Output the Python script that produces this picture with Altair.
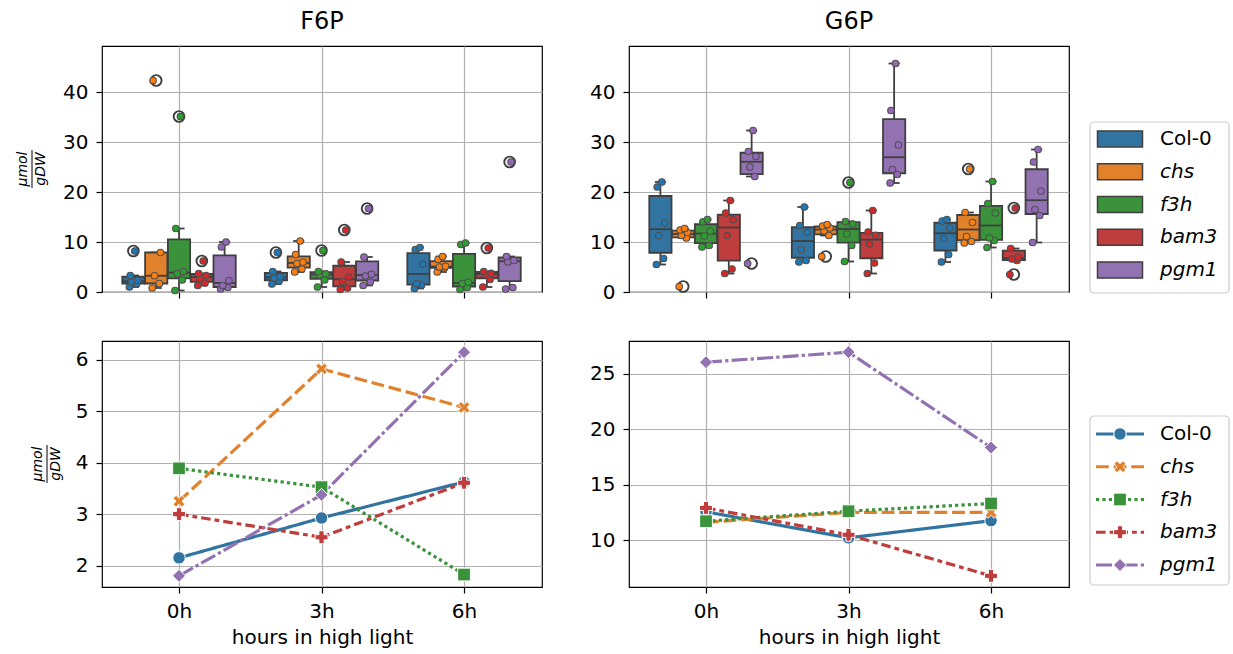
import altair as alt
import numpy as np
import pandas as pd

FONT = "DejaVu Sans"
GENOTYPES = ["Col-0", "chs", "f3h", "bam3", "pgm1"]
TIME_LABELS = ["0h", "3h", "6h"]
BOX_COLORS = ["#3274a1", "#e1812c", "#3a923a", "#c03d3e", "#9372b2"]
POINT_COLORS = ["#1f77b4", "#ff7f0e", "#2ca02c", "#d62728", "#9467bd"]
EDGE = "#3f3f3f"

# replicate values (umol/gDW) per genotype, lists for 0h, 3h, 6h
F6P_COL0 = [[1.0, 1.6, 2.0, 2.3, 3.3, 8.2], [1.6, 2.2, 2.8, 3.05, 4.1, 7.9], [0.7, 1.4, 1.7, 5.55, 8.5, 8.9]]
F6P_CHS = [[0.8, 1.7, 3.25, 7.9, 42.3], [4.0, 4.6, 5.7, 5.95, 7.5, 10.2], [4.0, 4.8, 5.0, 5.15, 6.5, 7.1]]
F6P_F3H = [[0.3, 2.4, 3.7, 4.08, 12.7, 35.1], [1.0, 2.4, 3.4, 3.65, 4.1, 8.3], [0.5, 0.9, 1.7, 1.95, 9.5, 9.8]]
F6P_BAM3 = [[1.3, 1.8, 2.7, 3.3, 3.7, 6.2], [0.5, 0.8, 2.1, 3.0, 6.0, 12.4], [1.0, 2.5, 3.5, 3.72, 4.1, 8.8]]
F6P_PGM1 = [[0.6, 0.9, 1.3, 2.3, 9.0, 10.0], [1.3, 2.0, 3.2, 3.55, 7.0, 16.7], [0.6, 0.9, 6.0, 6.3, 7.1, 26.0]]

G6P_COL0 = [[5.5, 6.7, 11.3, 13.8, 21.0, 22.0], [6.0, 6.3, 8.5, 11.9, 13.3, 17.0], [6.0, 7.5, 10.7, 12.8, 14.2, 14.5]]
G6P_CHS = [[1.1, 10.8, 11.3, 11.9, 12.4, 12.7], [7.1, 11.3, 12.2, 12.8, 13.2, 13.5], [9.8, 10.1, 11.1, 13.9, 15.9, 24.6]]
G6P_F3H = [[9.0, 9.3, 11.2, 12.2, 14.0, 14.5], [6.1, 9.3, 11.6, 13.6, 14.1, 21.9], [8.9, 10.3, 10.8, 15.8, 17.7, 22.1]]
G6P_BAM3 = [[3.7, 4.6, 11.3, 14.5, 15.8, 18.3], [3.7, 5.8, 9.6, 11.35, 12.0, 16.3], [3.5, 6.3, 6.6, 6.95, 8.7, 16.8]]
G6P_PGM1 = [[5.7, 23.1, 25.0, 27.1, 28.1, 32.3], [21.8, 23.5, 24.5, 29.4, 36.3, 45.7], [9.9, 15.3, 16.5, 20.2, 26.0, 28.5]]

F6P = [F6P_COL0, F6P_CHS, F6P_F3H, F6P_BAM3, F6P_PGM1]
G6P = [G6P_COL0, G6P_CHS, G6P_F3H, G6P_BAM3, G6P_PGM1]

# styling constants
DODGE = 0.16
BOX_HALF = 0.078
CAP_HALF = 0.039
JITTER = [-0.028, 0.022, -0.012, 0.03, -0.022, 0.01]
W, H = 440, 246
LW = 3.2

XS = alt.Scale(domain=[-0.5404, 2.547], nice=False, zero=False)
Y_TOP = alt.Scale(domain=[0, 49.2], nice=False, zero=False)
Y_F6P_LINE = alt.Scale(domain=[1.5825, 6.3675], nice=False, zero=False)
Y_G6P_LINE = alt.Scale(domain=[5.766, 27.96], nice=False, zero=False)
BOX_SCALE = alt.Scale(domain=GENOTYPES, range=BOX_COLORS)
PT_SCALE = alt.Scale(domain=GENOTYPES, range=POINT_COLORS)
DASH_SCALE = alt.Scale(domain=GENOTYPES, range=[[1, 0], [12.8, 4.8], [3.2, 3.2], [9.6, 4, 4.8, 4], [16, 3.2, 3.2, 3.2]])


def x_path():
    w = 1 / 3
    pts = [(-1, -w), (-w, -w), (-w, -1), (w, -1), (w, -w), (1, -w), (1, w), (w, w), (w, 1), (-w, 1), (-w, w), (-1, w)]
    c = np.cos(np.pi / 4)
    rp = [((x - y) * c, (x + y) * c) for x, y in pts]
    return "M" + "L".join(f"{x:.3f},{y:.3f}" for x, y in rp) + "Z"


SHAPE_SCALE = alt.Scale(domain=GENOTYPES, range=["circle", x_path(), "square", "cross", "diamond"])
SIZE_SCALE = alt.Scale(domain=GENOTYPES, range=[155, 170, 70, 150, 140])
LEG_Y = alt.Scale(type="point", domain=GENOTYPES, range=[93, 224], padding=0)
PATCH = "M-1,-0.356H1V0.356H-1Z"


def build(series):
    raw, boxes, whisk, caps, fliers = [], [], [], [], []
    for gi, (g, per_time) in enumerate(zip(GENOTYPES, series)):
        for ti, vals in enumerate(per_time):
            xc = ti + (gi - 2) * DODGE
            a = np.sort(np.asarray(vals, float))
            q1, med, q3 = np.percentile(a, [25, 50, 75])
            iqr = q3 - q1
            lo_f, hi_f = q1 - 1.5 * iqr, q3 + 1.5 * iqr
            inside = a[(a >= lo_f) & (a <= hi_f)]
            lo, hi = inside.min(), inside.max()
            boxes.append(dict(genotype=g, bl=xc - BOX_HALF, br=xc + BOX_HALF, q1=q1, q3=q3, med=med))
            whisk += [dict(xc=xc, y1=lo, y2=q1), dict(xc=xc, y1=q3, y2=hi)]
            caps += [dict(cl=xc - CAP_HALF, cr=xc + CAP_HALF, cy=lo), dict(cl=xc - CAP_HALF, cr=xc + CAP_HALF, cy=hi)]
            for v in a[(a < lo_f) | (a > hi_f)]:
                fliers.append(dict(xc=xc, value=float(v)))
            for k, v in enumerate(vals):
                raw.append(dict(genotype=g, t=ti, xj=xc + JITTER[k % len(JITTER)], value=v))
    return (pd.DataFrame(raw), pd.DataFrame(boxes), pd.DataFrame(whisk),
            pd.DataFrame(caps), pd.DataFrame(fliers))


ONE = pd.DataFrame({"a": [0]})


def frac_title(bar_x):
    num = alt.Chart(pd.DataFrame({"t": ["μmol"]})).mark_text(
        font=FONT, fontSize=14, fontStyle="italic", angle=270, align="center", baseline="middle", color="black"
    ).encode(x=alt.value(bar_x - 9), y=alt.value(H / 2), text="t:N")
    den = alt.Chart(pd.DataFrame({"t": ["gDW"]})).mark_text(
        font=FONT, fontSize=14, fontStyle="italic", angle=270, align="center", baseline="middle", color="black"
    ).encode(x=alt.value(bar_x + 9), y=alt.value(H / 2), text="t:N")
    bar = alt.Chart(ONE).mark_rule(color="black", strokeWidth=1).encode(
        x=alt.value(bar_x), y=alt.value(H / 2 - 19), y2=alt.value(H / 2 + 19))
    return [num, den, bar]


def legend_frame(y0, y1):
    return alt.Chart(ONE).mark_rect(fill="white", fillOpacity=0.8, stroke="#cccccc", strokeWidth=1.2,
                                    cornerRadius=4).encode(
        x=alt.value(461), x2=alt.value(600), y=alt.value(y0), y2=alt.value(y1))


def legend_labels():
    lg = pd.DataFrame({"genotype": GENOTYPES})
    ly = alt.Y("genotype:N", scale=LEG_Y, axis=None)
    t1 = alt.Chart(lg).transform_filter(alt.datum.genotype == "Col-0").mark_text(
        font=FONT, fontSize=20, align="left", baseline="middle", color="black").encode(
        x=alt.value(531), y=ly, text="genotype:N")
    t2 = alt.Chart(lg).transform_filter(alt.datum.genotype != "Col-0").mark_text(
        font=FONT, fontSize=20, fontStyle="italic", align="left", baseline="middle", color="black").encode(
        x=alt.value(531), y=ly, text="genotype:N")
    return lg, ly, [t1, t2]


def top_panel(title, series, left, legend):
    raw, boxes, whisk, caps, fliers = build(series)
    xa = alt.Axis(values=[0, 1, 2], labels=False, title=None)
    ya = alt.Axis(values=[0, 10, 20, 30, 40], title=None)
    layers = [
        alt.Chart(whisk).mark_rule(color=EDGE, strokeWidth=1.8).encode(
            x=alt.X("xc:Q", scale=XS, axis=xa), y=alt.Y("y1:Q", scale=Y_TOP, axis=ya), y2="y2:Q"),
        alt.Chart(caps).mark_rule(color=EDGE, strokeWidth=1.8).encode(
            x=alt.X("cl:Q", scale=XS, axis=xa), x2="cr:Q", y=alt.Y("cy:Q", scale=Y_TOP, axis=ya)),
        alt.Chart(boxes).mark_rect(stroke=EDGE, strokeWidth=1.8).encode(
            x=alt.X("bl:Q", scale=XS, axis=xa), x2="br:Q",
            y=alt.Y("q1:Q", scale=Y_TOP, axis=ya), y2="q3:Q",
            color=alt.Color("genotype:N", scale=BOX_SCALE, legend=None)),
        alt.Chart(boxes).mark_rule(color=EDGE, strokeWidth=1.8).encode(
            x=alt.X("bl:Q", scale=XS, axis=xa), x2="br:Q", y=alt.Y("med:Q", scale=Y_TOP, axis=ya)),
        alt.Chart(fliers).mark_point(shape="circle", filled=False, size=115, color=EDGE, strokeWidth=1.9,
                                     opacity=1).encode(
            x=alt.X("xc:Q", scale=XS, axis=xa), y=alt.Y("value:Q", scale=Y_TOP, axis=ya)),
        alt.Chart(raw).mark_circle(size=44, stroke="#505050", strokeWidth=1.1, opacity=1).encode(
            x=alt.X("xj:Q", scale=XS, axis=xa), y=alt.Y("value:Q", scale=Y_TOP, axis=ya),
            fill=alt.Fill("genotype:N", scale=PT_SCALE, legend=None)),
        alt.Chart(pd.DataFrame({"t": [title]})).mark_text(
            font=FONT, fontSize=24, align="center", baseline="middle", color="black").encode(
            x=alt.value(W / 2), y=alt.value(-24), text="t:N"),
    ]
    if left:
        layers += frac_title(-70)
        layers.append(alt.Chart(ONE).mark_rule(opacity=0).encode(
            x=alt.value(-101), x2=alt.value(-100), y=alt.value(-45)))
    main = alt.layer(*layers)
    if legend:
        lg, ly, texts = legend_labels()
        patches = alt.Chart(lg).mark_point(shape=PATCH, filled=True, size=2025, stroke=EDGE, strokeWidth=1.5,
                                           opacity=1).encode(
            x=alt.value(491), y=ly, color=alt.Color("genotype:N", scale=BOX_SCALE, legend=None))
        leg = alt.layer(legend_frame(76, 247), patches, *texts)
        return alt.layer(main, leg).resolve_scale(y="independent").properties(width=W, height=H)
    return main.properties(width=W, height=H)


def bottom_panel(series, yscale, yvals, left, legend):
    raw = build(series)[0]
    xa = alt.Axis(values=[0, 1, 2], labelExpr="['0h','3h','6h'][datum.value]", title="hours in high light")
    ya = alt.Axis(values=yvals, title=None)
    enc = dict(
        x=alt.X("t:Q", scale=XS, axis=xa),
        y=alt.Y("median(value):Q", scale=yscale, axis=ya),
        color=alt.Color("genotype:N", scale=PT_SCALE, legend=None),
    )
    lines = alt.Chart(raw).mark_line(strokeWidth=LW).encode(
        strokeDash=alt.StrokeDash("genotype:N", scale=DASH_SCALE, legend=None), **enc)
    pts = alt.Chart(raw).mark_point(filled=True, opacity=1, stroke="white", strokeWidth=1).encode(
        shape=alt.Shape("genotype:N", scale=SHAPE_SCALE, legend=None),
        size=alt.Size("genotype:O", scale=SIZE_SCALE, legend=None), **enc)
    layers = [lines, pts]
    if left:
        layers += frac_title(-55)
    main = alt.layer(*layers)
    if legend:
        lg, ly, texts = legend_labels()
        segs = alt.Chart(lg).mark_rule(strokeWidth=LW).encode(
            x=alt.value(467), x2=alt.value(515), y=ly,
            color=alt.Color("genotype:N", scale=PT_SCALE, legend=None),
            strokeDash=alt.StrokeDash("genotype:N", scale=DASH_SCALE, legend=None))
        marks = alt.Chart(lg).mark_point(filled=True, opacity=1, stroke="white", strokeWidth=1).encode(
            x=alt.value(491), y=ly,
            color=alt.Color("genotype:N", scale=PT_SCALE, legend=None),
            shape=alt.Shape("genotype:N", scale=SHAPE_SCALE, legend=None),
            size=alt.Size("genotype:O", scale=SIZE_SCALE, legend=None))
        leg = alt.layer(legend_frame(75, 244), segs, marks, *texts)
        return alt.layer(main, leg).resolve_scale(y="independent").properties(width=W, height=H)
    return main.properties(width=W, height=H)


chart = alt.concat(
    top_panel("F6P", F6P, True, False),
    top_panel("G6P", G6P, False, True),
    bottom_panel(F6P, Y_F6P_LINE, [2, 3, 4, 5, 6], True, False),
    bottom_panel(G6P, Y_G6P_LINE, [10, 15, 20, 25], False, True),
    columns=2,
    spacing={"row": 49, "column": 87},
    bounds="flush",
).properties(padding=0, background="white").configure_axis(
    labelFont=FONT, labelFontSize=20, labelColor="black",
    titleFont=FONT, titleFontSize=20, titleFontWeight="normal", titleColor="black", titlePadding=6,
    tickColor="black", tickSize=6, tickWidth=1.2,
    gridColor="#b0b0b0", gridWidth=1.2, domain=False, labelPadding=8,
).configure_view(stroke="black", strokeWidth=1.2)

chart.save("out.html", embed_options={"renderer": "svg", "actions": False})
